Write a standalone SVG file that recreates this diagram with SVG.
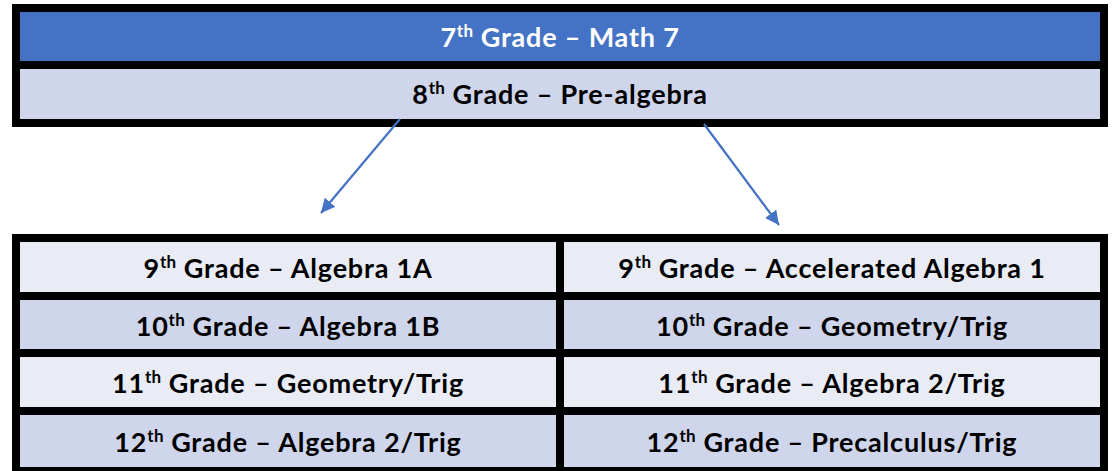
<svg xmlns="http://www.w3.org/2000/svg" width="1119" height="471" viewBox="0 0 1119 471">
<defs>
<style>
.frame{fill:#000}
.blue{fill:#4472C4}
.mid{fill:#CFD5EA}
.light{fill:#E9EBF5}
.t{font-family:Lato,"Liberation Sans",sans-serif;font-weight:700;font-size:27px;letter-spacing:0.8px;text-anchor:middle;fill:#000}
.w{fill:#fff}
.sup{font-size:17px;letter-spacing:0.3px}
.conn{stroke:#4472C4;stroke-width:2.2;fill:none}
</style>
<marker id="ah" markerUnits="userSpaceOnUse" markerWidth="16" markerHeight="14" refX="14" refY="7" orient="auto">
<path d="M0,0 L14,7 L0,14 Z" fill="#4472C4"/>
</marker>
</defs>
<rect width="1119" height="471" fill="#fff"/>
<g id="top-table">
<rect class="frame" x="12" y="4" width="1096" height="123"/>
<g id="grade7">
<rect class="blue" x="20" y="12" width="1080" height="49"/>
<text class="t w" x="560" y="47">7<tspan class="sup" dy="-10">th</tspan><tspan dy="10"> Grade – Math 7</tspan></text>
</g>
<g id="grade8">
<rect class="mid" x="20" y="69" width="1080" height="50"/>
<text class="t" x="560" y="104">8<tspan class="sup" dy="-10">th</tspan><tspan dy="10"> Grade – Pre-algebra</tspan></text>
</g>
</g>
<g id="connectors">
<line class="conn" x1="400" y1="119" x2="321" y2="213" marker-end="url(#ah)"/>
<line class="conn" x1="704" y1="124" x2="779" y2="225" marker-end="url(#ah)"/>
</g>
<g id="bottom-table">
<rect class="frame" x="12" y="234" width="1096" height="245"/>
<g id="left-9">
<rect class="light" x="20" y="242" width="536" height="50"/>
<text class="t" x="288" y="278">9<tspan class="sup" dy="-10">th</tspan><tspan dy="10"> Grade – Algebra 1A</tspan></text>
</g>
<g id="left-10">
<rect class="mid" x="20" y="300" width="536" height="49"/>
<text class="t" x="288" y="336">10<tspan class="sup" dy="-10">th</tspan><tspan dy="10"> Grade – Algebra 1B</tspan></text>
</g>
<g id="left-11">
<rect class="light" x="20" y="357" width="536" height="50"/>
<text class="t" x="288" y="393">11<tspan class="sup" dy="-10">th</tspan><tspan dy="10"> Grade – Geometry/Trig</tspan></text>
</g>
<g id="left-12">
<rect class="mid" x="20" y="415" width="536" height="52"/>
<text class="t" x="288" y="452">12<tspan class="sup" dy="-10">th</tspan><tspan dy="10"> Grade – Algebra 2/Trig</tspan></text>
</g>
<g id="right-9">
<rect class="light" x="564" y="242" width="536" height="50"/>
<text class="t" x="832" y="278">9<tspan class="sup" dy="-10">th</tspan><tspan dy="10"> Grade – Accelerated Algebra 1</tspan></text>
</g>
<g id="right-10">
<rect class="mid" x="564" y="300" width="536" height="49"/>
<text class="t" x="832" y="336">10<tspan class="sup" dy="-10">th</tspan><tspan dy="10"> Grade – Geometry/Trig</tspan></text>
</g>
<g id="right-11">
<rect class="light" x="564" y="357" width="536" height="50"/>
<text class="t" x="832" y="393">11<tspan class="sup" dy="-10">th</tspan><tspan dy="10"> Grade – Algebra 2/Trig</tspan></text>
</g>
<g id="right-12">
<rect class="mid" x="564" y="415" width="536" height="52"/>
<text class="t" x="832" y="452">12<tspan class="sup" dy="-10">th</tspan><tspan dy="10"> Grade – Precalculus/Trig</tspan></text>
</g>
</g>
</svg>
